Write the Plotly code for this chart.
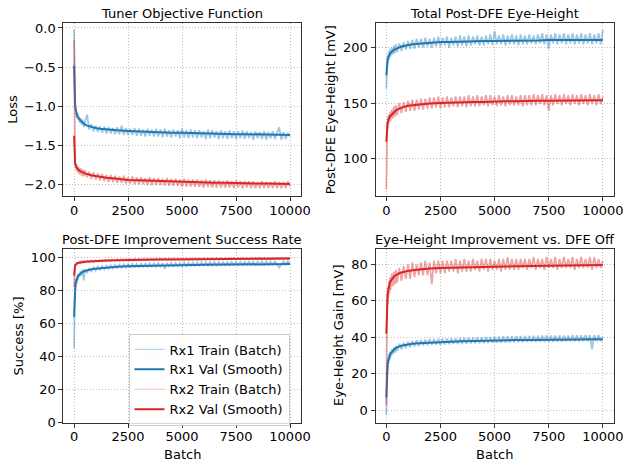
import plotly.graph_objects as go

# ---------------- data ----------------
BATCH_TRAIN = [0, 10, 20, 30, 45, 60, 80, 100, 125, 150, 175, 200, 250, 300, 350, 400, 450, 500] + list(range(600, 10001, 100))
BATCH_VAL = [0, 10, 20, 30, 45, 60, 80, 100, 125, 150, 175, 200, 250, 300, 350, 400, 450, 500,
             600, 700, 800, 1000, 1200, 1500, 2000, 2500, 3000, 3500, 4000, 4500, 5000, 5500,
             6000, 6500, 7000, 7500, 8000, 8500, 9000, 9500, 10000]

# Panel 1: loss
loss_rx1_train = [-0.02, -0.62, -0.80, -0.88, -0.99, -1.00, -1.09, -1.06, -1.14, -1.09, -1.17, -1.12, -1.21, -1.15, -1.24, -1.17, -1.27, -1.20,
    -1.11, -1.30, -1.23, -1.32, -1.25, -1.33, -1.26, -1.34, -1.26, -1.35,
    -1.27, -1.35, -1.28, -1.36, -1.27, -1.36, -1.25, -1.37, -1.28, -1.37,
    -1.29, -1.37, -1.28, -1.38, -1.29, -1.38, -1.30, -1.39, -1.29, -1.38,
    -1.30, -1.39, -1.29, -1.39, -1.30, -1.40, -1.29, -1.39, -1.31, -1.40,
    -1.30, -1.39, -1.31, -1.41, -1.29, -1.40, -1.31, -1.41, -1.30, -1.40,
    -1.31, -1.41, -1.31, -1.40, -1.32, -1.42, -1.30, -1.41, -1.31, -1.40,
    -1.32, -1.42, -1.31, -1.41, -1.32, -1.42, -1.31, -1.41, -1.32, -1.42,
    -1.32, -1.41, -1.31, -1.42, -1.32, -1.41, -1.33, -1.43, -1.32, -1.41,
    -1.33, -1.42, -1.32, -1.43, -1.33, -1.41, -1.32, -1.42, -1.33, -1.27,
    -1.43, -1.33, -1.42, -1.34, -1.39]
loss_rx1_val = [-0.48, -0.70, -0.82, -0.90, -0.97, -1.02, -1.06, -1.09, -1.11, -1.13, -1.14, -1.15, -1.17, -1.19, -1.20, -1.21, -1.225, -1.235,
    -1.25, -1.26, -1.27, -1.28, -1.29, -1.30, -1.31, -1.318, -1.325, -1.33, -1.335, -1.34, -1.34, -1.345,
    -1.35, -1.35, -1.355, -1.36, -1.36, -1.36, -1.365, -1.365, -1.37]
loss_rx2_train = [-0.15, -1.50, -1.64, -1.68, -1.76, -1.71, -1.80, -1.74, -1.83, -1.76, -1.85, -1.78, -1.87, -1.79, -1.89, -1.81, -1.90, -1.82,
    -1.91, -1.84, -1.93, -1.85, -1.94, -1.86, -1.95, -1.87, -1.96, -1.88,
    -1.97, -1.88, -1.97, -1.89, -1.98, -1.90, -1.98, -1.89, -1.99, -1.91,
    -1.99, -1.90, -2.00, -1.91, -2.00, -1.91, -2.00, -1.92, -2.01, -1.91,
    -2.01, -1.92, -2.01, -1.92, -2.01, -1.93, -2.02, -1.92, -2.02, -1.93,
    -2.02, -1.93, -2.02, -1.94, -2.03, -1.93, -2.03, -1.94, -2.03, -1.94,
    -2.03, -1.94, -2.03, -1.95, -2.04, -1.94, -2.03, -1.95, -2.04, -1.95,
    -2.04, -1.95, -2.04, -1.96, -2.04, -1.95, -2.04, -1.96, -2.05, -1.95,
    -2.04, -1.96, -2.05, -1.96, -2.04, -1.96, -2.05, -1.96, -2.05, -1.97,
    -2.05, -1.96, -2.05, -1.97, -2.05, -1.97, -2.05, -1.96, -2.05, -1.97,
    -2.05, -1.97, -2.05, -1.96, -2.03]
loss_rx2_val = [-1.38, -1.58, -1.66, -1.70, -1.73, -1.75, -1.77, -1.78, -1.79, -1.80, -1.81, -1.815, -1.825, -1.835, -1.845, -1.85, -1.855, -1.86,
    -1.87, -1.88, -1.885, -1.895, -1.905, -1.915, -1.93, -1.945, -1.95, -1.955, -1.96, -1.965, -1.97, -1.975,
    -1.975, -1.98, -1.98, -1.985, -1.985, -1.99, -1.99, -1.99, -1.995]

# Panel 2: total post-DFE eye height [mV]
eh_rx1_train = [163, 178, 186, 181, 191, 186, 194, 188, 197, 190, 199, 192, 200, 194, 202, 195, 203, 196,
    204, 197, 205, 198, 206, 199, 207, 199, 208, 200,
    208, 200, 209, 201, 208, 200, 209, 201, 210, 201,
    209, 202, 210, 200, 209, 202, 210, 201, 211, 202,
    210, 201, 211, 202, 210, 203, 211, 202, 210, 202,
    211, 203, 212, 202, 215, 203, 211, 203, 212, 202,
    211, 203, 212, 203, 211, 202, 212, 203, 211, 203,
    212, 204, 211, 203, 212, 204, 213, 203, 212, 199,
    212, 204, 213, 203, 212, 204, 213, 203, 212, 204,
    213, 203, 212, 204, 213, 203, 212, 204, 213, 203,
    212, 204, 213, 203, 216]
eh_rx1_val = [175, 180, 183, 185, 187, 189, 190.5, 192, 193, 194, 195, 195.5, 196.5, 197.5, 198, 198.5, 199, 199.5,
    200.5, 201, 201.5, 202.5, 203, 203.5, 204.5, 205, 205, 205.5, 205.5, 206, 206, 206,
    206.5, 206.5, 206.5, 207, 207, 207, 207, 207, 207]
eh_rx2_train = [72, 112, 126, 121, 133, 127, 138, 131, 140, 133, 142, 134, 144, 136, 147, 138, 148, 139,
    150, 141, 151, 142, 152, 143, 153, 143, 153, 144,
    154, 144, 154, 145, 155, 145, 155, 146, 156, 145,
    155, 146, 156, 146, 155, 147, 156, 146, 156, 147,
    156, 146, 157, 147, 156, 147, 157, 147, 156, 148,
    157, 147, 157, 148, 156, 147, 157, 148, 156, 147,
    157, 148, 157, 148, 156, 148, 157, 147, 157, 148,
    157, 148, 158, 148, 157, 149, 158, 148, 157, 143,
    157, 148, 158, 149, 157, 148, 158, 149, 157, 148,
    158, 149, 157, 148, 158, 149, 157, 148, 158, 149,
    157, 148, 158, 149, 156]
eh_rx2_val = [115, 120, 124, 127, 130, 132, 134, 135.5, 136.5, 137.5, 138, 138.5, 139.5, 141, 142, 143, 143.5, 144,
    145, 146, 146.5, 147.5, 148, 148.5, 149.5, 150, 150.5, 150.5, 151, 151, 151.5, 151.5,
    151.5, 152, 152, 152, 152, 152.5, 152.5, 152.5, 152.5]

# Panel 3: success rate [%]
sr_rx1_train = [45, 66, 74, 79, 78, 84, 82, 87, 84, 89, 86, 90, 88, 91.5, 89, 92.5, 86, 92.5,
    90.5, 93.5, 91.5, 94, 92, 94.3, 92.4, 94.6, 92.8, 94.9,
    93, 95.1, 93.3, 95.3, 93.5, 95.5, 93.6, 95.7, 93.8, 95.8,
    93.9, 96, 94, 96, 94.1, 96.1, 94.2, 96.2, 94.2, 96.3,
    94.3, 96.3, 94.4, 96.4, 94.4, 96.4, 93, 96.5, 94.5, 96.5,
    94.6, 96.6, 94.6, 96.6, 94.7, 96.7, 94.7, 96.7, 94.8, 96.8,
    94.8, 96.8, 94.9, 96.9, 94.9, 96.9, 94.9, 97, 95, 97,
    95, 97, 95.1, 97.1, 95.1, 97.1, 95.1, 97.1, 95.2, 97.2,
    95.2, 97.2, 95.2, 97.2, 95.3, 97.3, 95.3, 97.3, 95.3, 97.3,
    95.4, 97.4, 95.4, 97.4, 95.4, 97.4, 95.5, 97.5, 95.5, 93.8,
    95.6, 97.5, 95.6, 97.6, 95.7]
sr_rx1_val = [64, 70, 75, 78, 81, 83, 85, 86, 87, 87.8, 88.4, 89, 89.7, 90.3, 90.8, 91.2, 91.5, 91.7,
    92.1, 92.4, 92.7, 93.1, 93.4, 93.8, 94.2, 94.5, 94.7, 94.9, 95, 95.1, 95.2, 95.3,
    95.4, 95.5, 95.5, 95.6, 95.7, 95.7, 95.8, 95.8, 95.9]
sr_rx2_train = [82, 90, 93.5, 93.5, 95.5, 94.8, 96.3, 95.6, 96.8, 96, 97, 96.2, 97.3, 96.5, 97.5, 96.7, 97.7, 96.9,
    97.9, 97.1, 98.1, 97.2, 98.2, 97.3, 98.3, 97.4, 98.4, 97.6,
    98.5, 97.7, 98.6, 97.8, 98.7, 97.9, 98.8, 98, 98.9, 98,
    98.9, 98.1, 99, 98.1, 99, 98.2, 99.1, 98.2, 99.1, 98.3,
    99.1, 98.3, 99.2, 98.3, 99.2, 98.4, 99.2, 98.4, 99.3, 98.4,
    99.3, 98.5, 99.3, 98.5, 99.3, 98.5, 99.4, 98.5, 99.4, 98.6,
    99.4, 98.6, 99.4, 98.6, 99.5, 98.6, 99.5, 98.7, 99.5, 98.7,
    99.5, 98.7, 99.5, 98.7, 99.5, 98.8, 99.6, 98.8, 99.6, 98.8,
    99.6, 98.8, 99.6, 98.8, 99.6, 98.9, 99.6, 98.9, 99.6, 98.9,
    99.7, 98.9, 99.7, 98.9, 99.7, 98.9, 99.7, 99, 99.7, 99,
    99.7, 99, 99.7, 99, 99.6]
sr_rx2_val = [89, 91.5, 93, 94, 94.8, 95.3, 95.7, 96, 96.2, 96.4, 96.5, 96.6, 96.8, 96.9, 97, 97.1, 97.2, 97.3,
    97.4, 97.5, 97.6, 97.7, 97.8, 98, 98.2, 98.4, 98.5, 98.6, 98.7, 98.7, 98.8, 98.8,
    98.9, 98.9, 99, 99, 99, 99.1, 99.1, 99.1, 99.2]

# Panel 4: eye-height gain vs DFE off [mV]
gain_rx1_train = [-2.4, 12, 19, 17, 25, 22, 28.5, 25.5, 30.5, 27.5, 32, 29, 33.5, 30.5, 34.5, 31.5, 35.5, 32.5,
    36.5, 33.5, 37, 34, 37.5, 34.5, 38, 35, 38.3, 35.2,
    38.5, 35.5, 38.8, 35.7, 39, 35.8, 39, 36, 39.2, 36,
    39.3, 36.1, 39.3, 36.2, 39.5, 36.3, 39.5, 36.3, 39.6, 36.4,
    39.7, 36.5, 39.8, 36.6, 39.9, 36.7, 40, 36.8, 40, 36.8,
    40.2, 36.9, 40.2, 37, 40.3, 37, 40.4, 37.1, 40.5, 37.2,
    40.5, 37.2, 40.6, 37.3, 40.6, 37.3, 40.7, 37.3, 40.7, 37.4,
    40.8, 37.4, 40.8, 37.4, 40.8, 37.5, 40.9, 37.5, 40.9, 37.5,
    40.9, 37.6, 41, 37.6, 41, 37.6, 41, 37.7, 41, 37.7,
    41.1, 37.7, 41.1, 37.7, 41.1, 37.8, 41.2, 37.8, 41.2, 33.5,
    41.2, 37.8, 41.2, 37.9, 40]
gain_rx1_val = [7, 13, 17, 20, 23, 25, 26.8, 28, 29.2, 30, 30.7, 31.2, 32, 32.7, 33.3, 33.8, 34.2, 34.5,
    35, 35.4, 35.7, 36.2, 36.5, 36.8, 37.2, 37.4, 37.6, 37.8, 38, 38.1, 38.3, 38.4,
    38.5, 38.5, 38.6, 38.7, 38.7, 38.8, 38.8, 38.9, 38.9]
gain_rx2_train = [3, 45, 58, 52, 64, 58, 68, 62, 71, 64, 73, 66, 75, 68, 76, 69, 77, 70,
    78, 71, 79, 72, 80, 72, 81, 73, 80, 74,
    81, 74, 82, 74, 81, 69, 82, 75, 82, 75,
    82, 75, 82, 76, 82, 76, 83, 75, 82, 76,
    83, 76, 82, 76, 83, 77, 82, 76, 83, 77,
    83, 76, 83, 77, 82, 77, 83, 76, 83, 77,
    84, 77, 83, 77, 83, 77, 83, 78, 83, 77,
    83, 78, 84, 77, 83, 78, 83, 77, 84, 78,
    83, 78, 84, 77, 83, 78, 84, 78, 83, 78,
    84, 77, 83, 78, 84, 78, 83, 78, 84, 77,
    84, 78, 83, 78, 82]
gain_rx2_val = [42, 50, 55, 58, 61, 63.5, 65.5, 67, 68.3, 69.3, 70.2, 70.8, 71.8, 72.6, 73.2, 73.7, 74.1, 74.5,
    75.1, 75.5, 75.9, 76.4, 76.8, 77.2, 77.7, 78, 78.2, 78.4, 78.5, 78.6, 78.7, 78.8,
    78.9, 79, 79.1, 79.2, 79.3, 79.4, 79.4, 79.5, 79.6]

for arr in [loss_rx1_train, loss_rx2_train, eh_rx1_train, eh_rx2_train, sr_rx1_train, sr_rx2_train, gain_rx1_train, gain_rx2_train]:
    assert len(arr) == len(BATCH_TRAIN), len(arr)
for arr in [loss_rx1_val, loss_rx2_val, eh_rx1_val, eh_rx2_val, sr_rx1_val, sr_rx2_val, gain_rx1_val, gain_rx2_val]:
    assert len(arr) == len(BATCH_VAL), len(arr)

TITLES = ["Tuner Objective Function", "Total Post-DFE Eye-Height",
          "Post-DFE Improvement Success Rate", "Eye-Height Improvement vs. DFE Off"]
YLABELS = ["Loss", "Post-DFE Eye-Height [mV]", "Success [%]", "Eye-Height Gain [mV]"]
XLABEL = "Batch"
LEGEND_NAMES = ["Rx1 Train (Batch)", "Rx1 Val (Smooth)", "Rx2 Train (Batch)", "Rx2 Val (Smooth)"]
X_TICKS = [0, 2500, 5000, 7500, 10000]

panels = [
    (loss_rx1_train, loss_rx1_val, loss_rx2_train, loss_rx2_val),
    (eh_rx1_train, eh_rx1_val, eh_rx2_train, eh_rx2_val),
    (sr_rx1_train, sr_rx1_val, sr_rx2_train, sr_rx2_val),
    (gain_rx1_train, gain_rx1_val, gain_rx2_train, gain_rx2_val),
]

# ---------------- styling / layout ----------------
W, H = 624, 464
FONT = "DejaVu Sans"
BLUE = "#1f77b4"
RED = "#d62728"
BLUE_T = "rgba(31,119,180,0.42)"
RED_T = "rgba(214,39,40,0.42)"
BLUE_LEG = "rgba(31,119,180,0.3)"
RED_LEG = "rgba(214,39,40,0.3)"

XDOM = [[63.3 / W, 300.8 / W], [375.5 / W, 613.7 / W]]
YDOM = [[1 - 196.0 / H, 1 - 23.3 / H], [1 - 422.5 / H, 1 - 249.0 / H]]
YRANGES = [[-2.15, 0.06], [66, 222], [0, 105], [-6.7, 88.4]]
YTICKS = [[0.0, -0.5, -1.0, -1.5, -2.0], [100, 150, 200], [0, 20, 40, 60, 80, 100], [0, 20, 40, 60, 80]]
YFMT = [".1f", "d", "d", "d"]

fig = go.Figure()
for i, (tr1, v1, tr2, v2) in enumerate(panels):
    suffix = "" if i == 0 else str(i + 1)
    xa, ya = "x" + suffix, "y" + suffix
    specs = [
        (BATCH_TRAIN, tr1, BLUE_T, 1.8),
        (BATCH_VAL, v1, BLUE, 2.0),
        (BATCH_TRAIN, tr2, RED_T, 1.8),
        (BATCH_VAL, v2, RED, 2.0),
    ]
    for (xs, ys, col, lw), name in zip(specs, LEGEND_NAMES):
        fig.add_trace(go.Scatter(x=xs, y=ys, mode="lines", name=name,
                                 line=dict(color=col, width=lw),
                                 xaxis=xa, yaxis=ya, showlegend=False, hoverinfo="skip"))

# legend entries (drawn in the bottom-left panel's legend box only)
for name, col, lw in zip(LEGEND_NAMES, [BLUE_LEG, BLUE, RED_LEG, RED], [1.2, 2.0, 1.2, 2.0]):
    fig.add_trace(go.Scatter(x=[None], y=[None], mode="lines", name=name,
                             line=dict(color=col, width=lw), xaxis="x3", yaxis="y3",
                             showlegend=True, hoverinfo="skip"))

layout = dict(
    width=W, height=H, margin=dict(l=0, r=0, t=0, b=0, autoexpand=False),
    paper_bgcolor="white", plot_bgcolor="white",
    font=dict(family=FONT, size=13, color="black"),
    legend=dict(x=128.5 / W, y=1 - 333.5 / H, xanchor="left", yanchor="top",
                bgcolor="rgba(255,255,255,0.8)", bordercolor="#cccccc", borderwidth=1,
                font=dict(family=FONT, size=13, color="black"), itemwidth=30,
                tracegroupgap=0),
    annotations=[],
)

axis_common = dict(showline=True, mirror=True, linecolor="#333333", linewidth=1,
                   ticks="outside", ticklen=4, tickwidth=1, tickcolor="#333333",
                   showgrid=True, gridcolor="rgba(170,170,170,0.75)", griddash="1px,2px", gridwidth=0.8,
                   zeroline=False, automargin=False,
                   tickfont=dict(family=FONT, size=13, color="black"))

for i in range(4):
    row, col = divmod(i, 2)
    suffix = "" if i == 0 else str(i + 1)
    xd, yd = XDOM[col], YDOM[row]
    layout["xaxis" + suffix] = dict(axis_common, domain=xd, anchor="y" + suffix,
                                    range=[-500, 10500], tickmode="array", tickvals=X_TICKS,
                                    ticktext=[str(t) for t in X_TICKS], ticklabelstandoff=-2)
    layout["yaxis" + suffix] = dict(axis_common, domain=yd, anchor="x" + suffix,
                                    range=YRANGES[i], tickmode="array", tickvals=YTICKS[i],
                                    tickformat=YFMT[i])
    xc = (xd[0] + xd[1]) / 2
    # subplot title
    title_y = 1 - (13.5 if row == 0 else 239.5) / H
    layout["annotations"].append(dict(text=TITLES[i], x=xc, y=title_y, xref="paper", yref="paper",
                                      xanchor="center", yanchor="middle", showarrow=False,
                                      font=dict(family=FONT, size=13, color="black")))
    # y label
    ylab_x = [13.0, 330.7, 18.7, 339.2][i] / W
    layout["annotations"].append(dict(text=YLABELS[i], x=ylab_x, y=(yd[0] + yd[1]) / 2,
                                      xref="paper", yref="paper", textangle=-90,
                                      xanchor="center", yanchor="middle", showarrow=False,
                                      font=dict(family=FONT, size=13, color="black")))
    if row == 1:
        layout["annotations"].append(dict(text=XLABEL, x=xc, y=1 - 454.5 / H, xref="paper", yref="paper",
                                          xanchor="center", yanchor="middle", showarrow=False,
                                          font=dict(family=FONT, size=13, color="black")))

fig.update_layout(**layout)
fig.write_html("out.html")
